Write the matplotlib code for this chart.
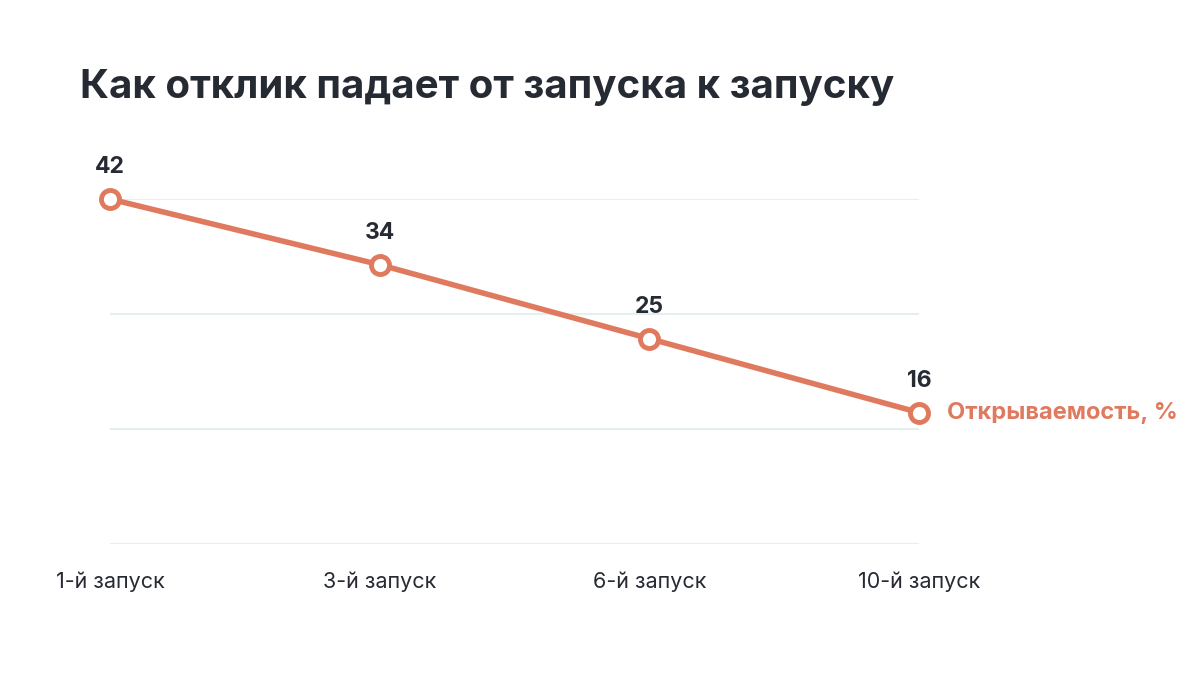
import matplotlib.pyplot as plt

plt.rcParams["font.family"] = ["Inter", "DejaVu Sans"]

# --- data ---
categories = ["1-й запуск", "3-й запуск", "6-й запуск", "10-й запуск"]
open_rate = [42, 34, 25, 16]
y_ticks = [0, 14, 28, 42]
series_name = "Открываемость, %"
title = "Как отклик падает от запуска к запуску"

LINE = "#E07A5F"
TEXT = "#262A33"
GRID = "#E3F0EE"

fig = plt.figure(figsize=(12, 6.75), dpi=100)
ax = fig.add_axes([110 / 1200, 1 - 544 / 675, (919 - 110) / 1200, (544 - 199) / 675])

x = list(range(len(categories)))
ax.plot(x, open_rate, color=LINE, lw=4, marker="o", ms=13, mfc="white",
        mec=LINE, mew=3.5, clip_on=False, zorder=3)

for xi, v in zip(x, open_rate):
    ax.annotate(f"{v}", (xi, v), xytext=(0, 15), textcoords="offset points",
                ha="center", va="bottom", fontsize=16.5, fontweight="bold", color=TEXT)

ax.annotate(series_name, (x[-1], open_rate[-1]), xytext=(20, 0),
            textcoords="offset points", ha="left", va="center",
            fontsize=17, fontweight="bold", color=LINE)

ax.set_xlim(0, len(categories) - 1)
ax.set_ylim(y_ticks[0], y_ticks[-1])
ax.set_yticks(y_ticks)
ax.set_xticks(x)
ax.set_xticklabels(categories, fontsize=15.5, color=TEXT)
ax.tick_params(axis="x", length=0, pad=20)
ax.tick_params(axis="y", length=0, labelleft=False)
ax.grid(axis="y", color=GRID, lw=1.5)
ax.set_axisbelow(True)
for s in ax.spines.values():
    s.set_visible(False)

fig.text(80 / 1200, 1 - 88 / 675, title, ha="left", va="center",
         fontsize=29, fontweight="bold", color=TEXT)

fig.savefig("out.png", dpi=100, facecolor="white")
